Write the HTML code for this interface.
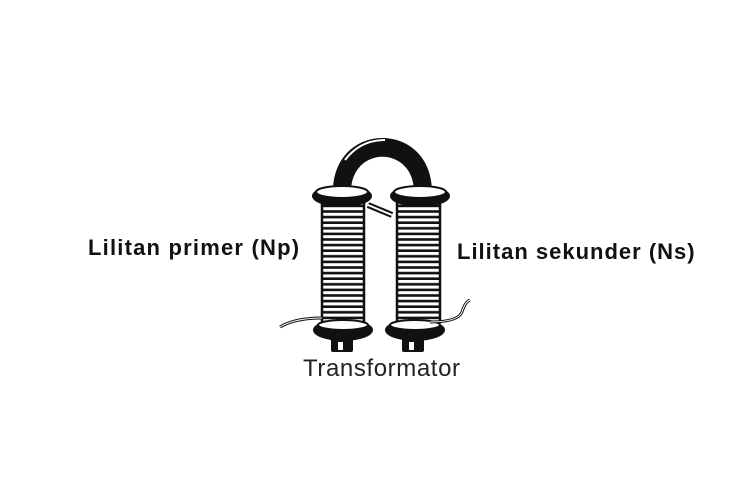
<!DOCTYPE html>
<html><head><meta charset="utf-8"><style>
html,body{margin:0;padding:0;background:#fff;}
body{width:750px;height:500px;position:relative;overflow:hidden;font-family:"Liberation Sans",sans-serif;}
.l{position:absolute;font-weight:bold;font-size:22px;letter-spacing:1.2px;color:#111;white-space:nowrap;}
</style></head><body>
<svg width="750" height="500" style="position:absolute;left:0;top:0">
<defs>
<pattern id="coil" width="10" height="5.6" patternUnits="userSpaceOnUse">
<rect width="10" height="5.6" fill="#fff"/>
<rect y="3" width="10" height="2.6" fill="#111"/>
</pattern>
</defs>
<path d="M333 192 C333 120 432 120 432 192 L414 192 C414 145 351 145 351 192 Z" fill="#111"/>
<path d="M345 160 Q360 140 385 140" stroke="#fff" stroke-width="2" fill="none"/>
<path d="M368 205 L392 215" stroke="#111" stroke-width="6"/>
<path d="M368 205 L392 215" stroke="#fff" stroke-width="2"/>
<rect x="322" y="200" width="42" height="122" fill="url(#coil)" stroke="#111" stroke-width="2.5"/>
<rect x="397" y="200" width="43" height="122" fill="url(#coil)" stroke="#111" stroke-width="2.5"/>
<ellipse cx="342" cy="196" rx="30" ry="11" fill="#111"/>
<ellipse cx="342" cy="192" rx="26" ry="6" fill="#fff" stroke="#111" stroke-width="2"/>
<ellipse cx="420" cy="196" rx="30" ry="11" fill="#111"/>
<ellipse cx="420" cy="192" rx="26" ry="6" fill="#fff" stroke="#111" stroke-width="2"/>
<ellipse cx="343" cy="330" rx="30" ry="11" fill="#111"/>
<ellipse cx="343" cy="325" rx="25" ry="5" fill="#fff" stroke="#111" stroke-width="2"/>
<ellipse cx="415" cy="330" rx="30" ry="11" fill="#111"/>
<ellipse cx="415" cy="325" rx="25" ry="5" fill="#fff" stroke="#111" stroke-width="2"/>
<rect x="331" y="338" width="22" height="14" rx="2" fill="#111"/>
<rect x="338" y="342" width="5" height="8" fill="#fff"/>
<rect x="402" y="338" width="22" height="14" rx="2" fill="#111"/>
<rect x="409" y="342" width="5" height="8" fill="#fff"/>
<path d="M280 327 Q295 318 322 318" stroke="#111" stroke-width="3" fill="none"/>
<path d="M280 327 Q295 318 322 318" stroke="#fff" stroke-width="1" fill="none"/>
<path d="M430 322 Q458 322 462 312 Q465 302 470 300" stroke="#111" stroke-width="3" fill="none"/>
<path d="M430 322 Q458 322 462 312 Q465 302 470 300" stroke="#fff" stroke-width="1" fill="none"/>
</svg>
<div class="l" style="left:88px;top:235px;">Lilitan primer (Np)</div>
<div class="l" style="left:457px;top:239px;letter-spacing:1.0px;">Lilitan sekunder (Ns)</div>
<div style="position:absolute;left:303px;top:355px;font-size:24px;letter-spacing:0.6px;color:#222;white-space:nowrap;">Transformator</div>
</body></html>
